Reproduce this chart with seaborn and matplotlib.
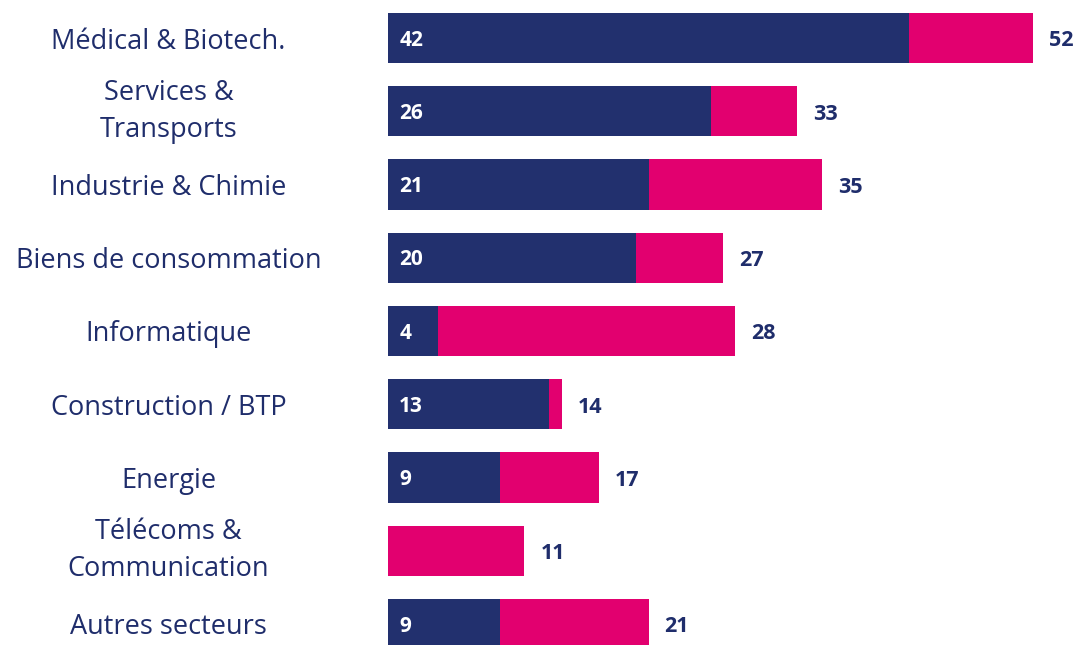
import matplotlib
matplotlib.use('Agg')
import matplotlib.pyplot as plt
import seaborn as sns
import pandas as pd

# Values
categories = ['Médical & Biotech.', 'Services &\nTransports', 'Industrie & Chimie',
              'Biens de consommation', 'Informatique', 'Construction / BTP',
              'Energie', 'Télécoms &\nCommunication', 'Autres secteurs']
navy_values = [42, 26, 21, 20, 4, 13, 9, 0, 9]
total_values = [52, 33, 35, 27, 28, 14, 17, 11, 21]

NAVY = '#22306E'
PINK = '#E2006F'
TEXT = '#1F2D6B'

df = pd.DataFrame({'secteur': categories, 'navy': navy_values, 'total': total_values})

sns.set_style('white')
plt.rcParams['font.family'] = ['Open Sans', 'DejaVu Sans']

fig = plt.figure(figsize=(10.84, 6.45), dpi=100)
ax = fig.add_axes([388 / 1084, 0, 1 - 388 / 1084, 1])

# total bar (pink) under the navy part
sns.barplot(data=df, x='total', y='secteur', color=PINK, orient='h',
            width=0.683, linewidth=0, saturation=1, ax=ax)
sns.barplot(data=df, x='navy', y='secteur', color=NAVY, orient='h',
            width=0.683, linewidth=0, saturation=1, ax=ax)

ax.set_xlim(0, 56.1)
ax.set_ylim(8.287, -0.519)
ax.set_xlabel('')
ax.set_ylabel('')
ax.set_xticks([])
sns.despine(ax=ax, left=True, bottom=True)

# category labels centred in the left margin
ax.set_yticks(range(len(categories)))
ax.set_yticklabels(categories, fontsize=19.5, color=TEXT, ha='center',
                   linespacing=1.45)
ax.tick_params(axis='y', length=0, pad=158)
for lab in ax.get_yticklabels():
    lab.set_va('center_baseline' if '\n' not in lab.get_text() else 'center')

for i, (n, t) in enumerate(zip(navy_values, total_values)):
    if n > 0:
        ax.text(0.9, i + 0.03, str(n), color='white', fontsize=15, fontweight='bold',
                va='center', ha='left')
    ax.text(t + 1.3, i + 0.04, str(t), color=TEXT, fontsize=15.5,
            fontweight='bold', va='center', ha='left')

fig.savefig('out.png', dpi=100)
